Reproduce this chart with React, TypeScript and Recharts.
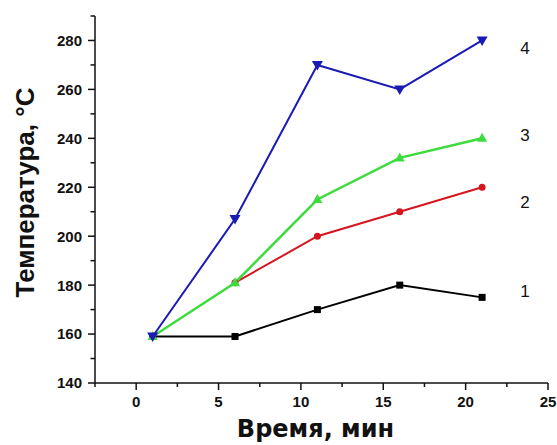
import React from 'react';
import { LineChart, Line, XAxis, YAxis, Label, LabelList } from 'recharts';

const times = [1, 6, 11, 16, 21];
const series1 = [159, 159, 170, 180, 175];
const series2: (number | null)[] = [null, 181, 200, 210, 220];
const series3 = [159, 181, 215, 232, 240];
const series4 = [159, 207, 270, 260, 280];
const seriesNames = ['1', '2', '3', '4'];
const xTicks = [-2.5, 0, 2.5, 5, 7.5, 10, 12.5, 15, 17.5, 20, 22.5, 25];
const xMajor = [0, 5, 10, 15, 20, 25];
const yTicks = [140, 150, 160, 170, 180, 190, 200, 210, 220, 230, 240, 250, 260, 270, 280, 290];
const yMajor = [140, 160, 180, 200, 220, 240, 260, 280];
const xTitle = 'Время, мин';
const yTitle = 'Температура, °C';

const data = times.map((t, i) => ({
  t,
  s1: series1[i],
  s2: series2[i],
  s3: series3[i],
  s4: series4[i],
}));

const AX = '#111';
const TICK_FONT = { fontFamily: '"Liberation Sans", Arial, sans-serif', fontSize: 15, fontWeight: 700 as const, fill: '#111' };

const XTick = (props: any) => {
  const { x, y, payload } = props;
  const major = xMajor.includes(payload.value);
  const axisY = y - 9;
  return (
    <g>
      <line x1={x} x2={x} y1={axisY} y2={axisY + (major ? 7 : 4)} stroke={AX} strokeWidth={1.5} />
      {major && (
        <text x={x} y={axisY + 24} textAnchor="middle" {...TICK_FONT}>
          {payload.value}
        </text>
      )}
    </g>
  );
};

const YTick = (props: any) => {
  const { x, y, payload } = props;
  const major = yMajor.includes(payload.value);
  const axisX = x + 13;
  return (
    <g>
      <line x1={axisX - (major ? 7 : 4.5)} x2={axisX} y1={y} y2={y} stroke={AX} strokeWidth={1.5} />
      {major && (
        <text x={x} y={y} dy="0.36em" textAnchor="end" {...TICK_FONT}>
          {payload.value}
        </text>
      )}
    </g>
  );
};

const Square = (props: any) => {
  const { cx, cy, index } = props;
  if (cx == null || cy == null) return <g key={index} />;
  return <rect key={index} x={cx - 3.5} y={cy - 3.5} width={7} height={7} fill="#000" />;
};
const Circle = (props: any) => {
  const { cx, cy, index } = props;
  if (cx == null || cy == null) return <g key={index} />;
  return <circle key={index} cx={cx} cy={cy} r={3.5} fill="#d4161f" />;
};
const TriUp = (props: any) => {
  const { cx, cy, index } = props;
  if (cx == null || cy == null) return <g key={index} />;
  return <path key={index} d={`M${cx},${cy - 5.5} L${cx + 5},${cy + 3.5} L${cx - 5},${cy + 3.5} Z`} fill="#3ddc3d" />;
};
const TriDown = (props: any) => {
  const { cx, cy, index } = props;
  if (cx == null || cy == null) return <g key={index} />;
  return <path key={index} d={`M${cx - 5.5},${cy - 4} L${cx + 5.5},${cy - 4} L${cx},${cy + 5.5} Z`} fill="#1a1ab4" />;
};

const endLabel = (name: string, dy: number) => (props: any) => {
  const { x, y, index } = props;
  if (index !== times.length - 1) return null;
  return (
    <text
      x={x + 43}
      y={y + dy}
      dy="0.36em"
      textAnchor="middle"
      fontFamily='"Liberation Sans", Arial, sans-serif'
      fontSize={17}
      fill="#111"
    >
      {name}
    </text>
  );
};

export default function App() {
  return (
    <div style={{ position: 'absolute', left: 0, top: 0, background: '#fff' }}>
      <LineChart
        width={557}
        height={445}
        data={data}
        margin={{ top: 16, right: 9, bottom: 0, left: 0 }}
      >
        <XAxis
          dataKey="t"
          type="number"
          domain={[-2.5, 25]}
          ticks={xTicks}
          interval={0}
          height={62}
          tickSize={7}
          tickMargin={2}
          tickLine={false}
          tick={<XTick />}
          axisLine={{ stroke: AX, strokeWidth: 1.5 }}
          allowDataOverflow
        >
          <Label
            content={(p: any) => {
              const vb = p.viewBox || { x: 95, y: 383, width: 453 };
              return (
                <text
                  x={vb.x + vb.width / 2 - 6}
                  y={vb.y + 54}
                  textAnchor="middle"
                  fontFamily='"DejaVu Sans", Verdana, sans-serif'
                  fontWeight={700}
                  fontSize={24}
                  fill="#111"
                >
                  {xTitle}
                </text>
              );
            }}
          />
        </XAxis>
        <YAxis
          type="number"
          domain={[140, 290]}
          ticks={yTicks}
          interval={0}
          width={95}
          tickSize={7}
          tickMargin={6}
          tickLine={false}
          tick={<YTick />}
          axisLine={{ stroke: AX, strokeWidth: 1.5 }}
          allowDataOverflow
        >
          <Label
            content={(p: any) => {
              const vb = p.viewBox || { x: 0, y: 16, height: 367 };
              const cx = 25;
              const cy = vb.y + vb.height / 2 - 7;
              return (
                <text
                  x={cx}
                  y={cy}
                  transform={`rotate(-90, ${cx}, ${cy})`}
                  textAnchor="middle"
                  dominantBaseline="central"
                  fontFamily='"Liberation Sans", Arial, sans-serif'
                  fontWeight={700}
                  fontSize={26}
                  fill="#111"
                >
                  {yTitle}
                </text>
              );
            }}
          />
        </YAxis>
        <Line dataKey="s1" stroke="#000" strokeWidth={2} dot={<Square />} isAnimationActive={false} connectNulls={false}>
          <LabelList dataKey="s1" content={endLabel(seriesNames[0], -6)} />
        </Line>
        <Line dataKey="s2" stroke="#d4161f" strokeWidth={2} dot={<Circle />} isAnimationActive={false}>
          <LabelList dataKey="s2" content={endLabel(seriesNames[1], 15)} />
        </Line>
        <Line dataKey="s3" stroke="#3ddc3d" strokeWidth={2.5} dot={<TriUp />} isAnimationActive={false}>
          <LabelList dataKey="s3" content={endLabel(seriesNames[2], -3)} />
        </Line>
        <Line dataKey="s4" stroke="#1a1ab4" strokeWidth={2} dot={<TriDown />} isAnimationActive={false}>
          <LabelList dataKey="s4" content={endLabel(seriesNames[3], 7)} />
        </Line>
      </LineChart>
    </div>
  );
}
